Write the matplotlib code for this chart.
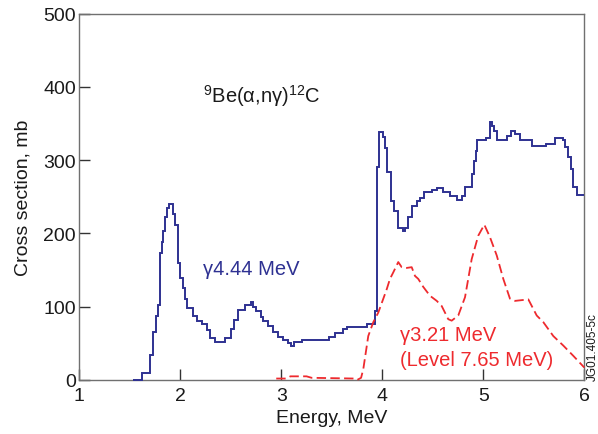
import matplotlib
matplotlib.use("Agg")
import matplotlib.pyplot as plt

plt.rcParams['font.family'] = ['Liberation Sans', 'DejaVu Sans']
plt.rcParams['mathtext.fontset'] = 'custom'
plt.rcParams['mathtext.rm'] = 'Liberation Sans'

# gamma 4.44 MeV histogram (bin edges, MeV; cross section, mb)
blue_edges = [1.535, 1.618, 1.700, 1.733, 1.759, 1.782, 1.799, 1.816, 1.832, 1.849,
              1.871, 1.891, 1.931, 1.948, 1.980, 1.997, 2.030, 2.047, 2.063, 2.129,
              2.162, 2.212, 2.261, 2.294, 2.344, 2.443, 2.502, 2.532, 2.574, 2.641,
              2.697, 2.723, 2.750, 2.796, 2.822, 2.871, 2.921, 2.970, 3.020, 3.069,
              3.096, 3.126, 3.202, 3.475, 3.532, 3.614, 3.653, 3.846, 3.928, 3.950,
              3.967, 4.010, 4.030, 4.050, 4.083, 4.116, 4.158, 4.202, 4.225, 4.257,
              4.291, 4.341, 4.373, 4.413, 4.489, 4.539, 4.604, 4.671, 4.738, 4.788,
              4.820, 4.891, 4.911, 4.928, 4.941, 5.024, 5.066, 5.083, 5.109, 5.139,
              5.232, 5.272, 5.314, 5.364, 5.479, 5.621, 5.710, 5.786, 5.809, 5.842,
              5.868, 5.891, 5.925, 6.0]
blue_values = [0, 10, 34, 66, 88, 103, 173, 189, 203, 222,
               235, 240, 226, 212, 160, 139, 125, 111, 98, 88,
               80, 76, 68, 58, 52, 58, 69, 82, 95, 103,
               106, 100, 94, 86, 80, 74, 66, 59, 54, 50,
               47, 52, 54, 59, 64, 69, 72, 77, 94, 291,
               338, 332, 316, 284, 245, 231, 208, 203, 208, 223,
               237, 245, 249, 256, 260, 262, 256, 251, 246, 251,
               263, 281, 299, 313, 327, 331, 352, 347, 340, 328,
               333, 340, 336, 327, 320, 322, 330, 327, 318, 304,
               288, 263, 253]

# gamma 3.21 MeV curve
red_energy = [2.95, 3.05, 3.09, 3.25, 3.30, 3.72, 3.75, 3.79, 3.812, 3.861,
              3.911, 3.960, 4.010, 4.044, 4.076, 4.109, 4.158, 4.192, 4.242, 4.291,
              4.324, 4.356, 4.406, 4.472, 4.539, 4.588, 4.653, 4.687, 4.752, 4.819,
              4.885, 4.950, 5.010, 5.066, 5.133, 5.198, 5.264, 5.314, 5.446, 5.529,
              5.594, 5.693, 5.792, 5.891, 6.0]
red_values = [2, 2, 5, 5, 3, 2, 0, 3, 15, 60,
              79, 92, 111, 124, 138, 147, 161, 154, 153, 154,
              142, 138, 127, 115, 108, 101, 83, 81, 88, 113,
              165, 197, 212, 195, 170, 138, 111, 108, 110, 88,
              79, 60, 47, 33, 17]

x_ticks = [1, 2, 3, 4, 5, 6]
y_ticks = [0, 100, 200, 300, 400, 500]

BLUE = '#2e3192'
RED = '#ee2a2e'
SPINE = '#707070'

fig = plt.figure(figsize=(5.98, 4.35), dpi=100)
ax = fig.add_axes([79.3 / 598, 1 - 381 / 435, (584.3 - 79.3) / 598, (381 - 14.7) / 435])

ax.stairs(blue_values, blue_edges, baseline=None, color=BLUE, linewidth=1.4,
          clip_on=False, zorder=3)
ax.plot(red_energy, red_values, color=RED, linewidth=1.3, dashes=(5.2, 2.4),
        clip_on=False, zorder=3)

ax.set_xlim(1, 6)
ax.set_ylim(0, 500)
ax.set_xticks(x_ticks)
ax.set_yticks(y_ticks)
ax.tick_params(direction='in', length=8, width=1, color='#333333',
               labelsize=14, labelcolor='#1a1a1a')
ax.tick_params(axis='x', pad=5)
ax.tick_params(axis='y', pad=2.5)
for s in ax.spines.values():
    s.set_color(SPINE)
    s.set_linewidth(1.0)

ax.set_xlabel('Energy, MeV', fontsize=14, color='#1a1a1a', labelpad=4)
ax.set_ylabel('Cross section, mb', fontsize=14, color='#1a1a1a', labelpad=8)

ax.text(2.225, 380, r'$^{9}$Be(α,nγ)$^{12}$C', fontsize=14.5, color='#1a1a1a',
        ha='left', va='baseline')
ax.text(2.225, 145, 'γ4.44 MeV', fontsize=14.5, color=BLUE, ha='left', va='baseline')
ax.text(4.175, 54, 'γ3.21 MeV', fontsize=14.5, color=RED, ha='left', va='baseline')
ax.text(4.175, 20, '(Level 7.65 MeV)', fontsize=14.5, color=RED, ha='left', va='baseline')

fig.text(593 / 598, 1 - 381 / 435, 'JG01.405-5c', rotation=90, fontsize=8.5,
         color='#1a1a1a', ha='center', va='bottom')

fig.savefig('out.png', dpi=100)
